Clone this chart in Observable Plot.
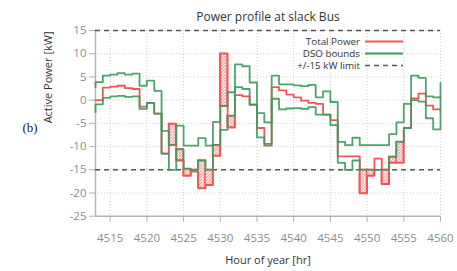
<!DOCTYPE html>
<html>
<head>
<meta charset="utf-8">
<script src="https://cdn.jsdelivr.net/npm/d3@7"></script>
<script src="https://cdn.jsdelivr.net/npm/@observablehq/plot@0.6"></script>
<style>
  html, body { margin: 0; padding: 0; background: #fff; }
  #chart svg { display: block; }
</style>
</head>
<body>
<div id="chart"></div>
<script>
// ---- data ----
const hours = d3.range(4513, 4561); // 4513 ... 4560
const xTicks = [4515, 4520, 4525, 4530, 4535, 4540, 4545, 4550, 4555, 4560];
const yTicks = [-25, -20, -15, -10, -5, 0, 5, 10, 15];
const limits = [15, -15];

// value of each hour interval [h, h+1); last entry is the end value at 4560
const upperStart = 2.8;
const upper = [3.9, 5.3, 5.5, 5.8, 5.5, 5.7, 3.1, 4.2, 2.0, -6.6,
  -9.7, -5.5, -9.8, -9.8, -8.2, -9.8, -4.7, -1.3, 1.7, 7.7,
  7.3, 3.8, -2.8, -4.8, 5.3, 3.4, 3.4, 3.2, 3.0, 3.3,
  0.6, 1.9, -0.4, -9.0, -9.7, -8.1, -9.7, -9.7, -9.7, -9.7,
  -7.3, -4.8, -0.8, 5.3, 4.8, 0.8, 0.6, 0.6];
const lowerStart = -2.6;
const lower = [-0.9, 0.5, 0.8, 0.9, 0.7, 0.8, -1.9, -0.6, -2.9, -11.5,
  -15.0, -10.6, -14.8, -15.0, -13.0, -15.0, -9.7, -6.4, -3.4, 2.8,
  2.4, -1.0, -8.0, -9.8, 0.3, -2.0, -1.8, -1.7, -1.9, -1.5,
  -3.1, -3.1, -5.4, -13.5, -15.0, -13.0, -15.0, -15.0, -15.0, -15.0,
  -12.2, -9.0, -6.0, 0.0, -0.3, -3.9, -6.3, 3.7];
const power = [0.0, 2.7, 2.9, 3.1, 2.6, 2.4, -1.4, -0.6, -2.9, -11.5,
  -5.1, -13.0, -16.3, -15.4, -19.0, -18.3, -12.0, 10.0, -5.9, 1.1,
  0.8, -0.9, -6.0, -9.4, 2.8, 2.1, 1.2, 0.6, -0.1, -0.6,
  -0.8, -3.1, -4.3, -12.1, -12.1, -12.1, -20.1, -16.3, -12.6, -18.1,
  -13.5, -13.5, -6.0, 0.4, 1.4, -1.2, -2.0, -2.0];
// hours where the total power leaves the DSO bounds (hatched)
const violationHours = [4523, 4524, 4525, 4526, 4527, 4528, 4529, 4530, 4531,
  4549, 4550, 4552, 4553, 4554];

const RED = "#f05656";
const GREEN = "#3b9a5e";

function series(start, values) {
  const rows = hours.map((h, i) => ({h, v: values[i]}));
  if (start !== null) rows.unshift({h: hours[0], v: start});
  return rows;
}
const upperRows = series(upperStart, upper);
const lowerRows = series(lowerStart, lower);
const powerRows = series(null, power);
const hatchRows = violationHours.map(h => {
  const i = h - hours[0];
  const p = power[i];
  const b = p > upper[i] ? upper[i] : lower[i];
  return {x1: h, x2: h + 1, y1: p, y2: b};
});

const fmt = d => String(d);

const svg = Plot.plot({
  width: 457,
  height: 271,
  marginLeft: 95,
  marginRight: 17,
  marginTop: 30,
  marginBottom: 55.3,
  style: {fontFamily: "'Open Sans', sans-serif", fontSize: "11px", background: "#fff"},
  x: {domain: [4513, 4560]},
  y: {domain: [-25, 15]},
  marks: [
    Plot.ruleX(xTicks, {stroke: "#d0d0d0", strokeDasharray: "1,2"}),
    Plot.ruleY(yTicks, {stroke: "#d0d0d0", strokeDasharray: "1,2"}),
    Plot.ruleX([4513], {stroke: "#b5b5b5", strokeWidth: 1.5}),
    Plot.ruleY([-25], {stroke: "#b5b5b5", strokeWidth: 1.5}),
    Plot.axisY(yTicks, {tickSize: 6, tickPadding: 3, stroke: "#b0b0b0", fill: "#8c8c8c", fontSize: 11.5, label: null, tickFormat: fmt}),
    Plot.axisX(xTicks, {tickSize: 6, tickPadding: 12, stroke: "#b0b0b0", fill: "#8c8c8c", fontSize: 11.5, label: null, tickFormat: fmt}),
    Plot.ruleY(limits, {stroke: "#555", strokeWidth: 1.5, strokeDasharray: "5,4"}),
    Plot.rectY(hatchRows, {x1: "x1", x2: "x2", y1: "y1", y2: "y2", fill: "url(#hatch)", stroke: RED, strokeWidth: 1.3}),
    Plot.line(powerRows, {x: "h", y: "v", curve: "step-after", stroke: RED, strokeWidth: 1.8}),
    Plot.line(upperRows, {x: "h", y: "v", curve: "step-after", stroke: GREEN, strokeWidth: 1.8, strokeOpacity: 0.9}),
    Plot.line(lowerRows, {x: "h", y: "v", curve: "step-after", stroke: GREEN, strokeWidth: 1.8, strokeOpacity: 0.9}),
    Plot.text(["Power profile at slack Bus"], {frameAnchor: "top", dy: -18, fontSize: 12, fill: "#333"}),
    Plot.text(["Hour of year [hr]"], {frameAnchor: "bottom", dy: 48, fontSize: 11, fill: "#333"}),
    Plot.text(["Active Power [kW]"], {frameAnchor: "left", dx: -47, rotate: -90, fontSize: 11, fill: "#333"}),
    Plot.text(["(b)"], {frameAnchor: "left", dx: -73, dy: 4, fontSize: 13, fill: "#222", fontFamily: "'Liberation Serif', serif"})
  ]
});

const s = d3.select(svg);
s.insert("defs", ":first-child").html(
  '<pattern id="hatch" patternUnits="userSpaceOnUse" width="3" height="3">' +
  '<rect width="3" height="3" fill="#fde8e8"/>' +
  '<path d="M-1,1 L1,-1 M0,3 L3,0 M2,4 L4,2" stroke="#f07a7a" stroke-width="0.6"/>' +
  '<path d="M-1,2 L1,4 M0,0 L3,3 M2,-1 L4,1" stroke="#f5aaaa" stroke-width="0.5"/>' +
  '</pattern>');

const legend = [
  {label: "Total Power", color: RED, dash: null, y: 41.5},
  {label: "DSO bounds", color: GREEN, dash: null, y: 53.5},
  {label: "+/-15 kW limit", color: "#555", dash: "5,4", y: 65.5}
];
const lg = s.append("g").attr("font-family", "'Open Sans', sans-serif").attr("font-size", 9.8);
legend.forEach(d => {
  lg.append("text").attr("x", 360).attr("y", d.y).attr("dy", "0.35em")
    .attr("text-anchor", "end").attr("fill", "#333").text(d.label);
  lg.append("line").attr("x1", 365).attr("x2", 403).attr("y1", d.y).attr("y2", d.y)
    .attr("stroke", d.color).attr("stroke-width", d.dash ? 1.5 : 1.8)
    .attr("stroke-dasharray", d.dash);
});

document.getElementById("chart").appendChild(svg);
</script>
</body>
</html>
